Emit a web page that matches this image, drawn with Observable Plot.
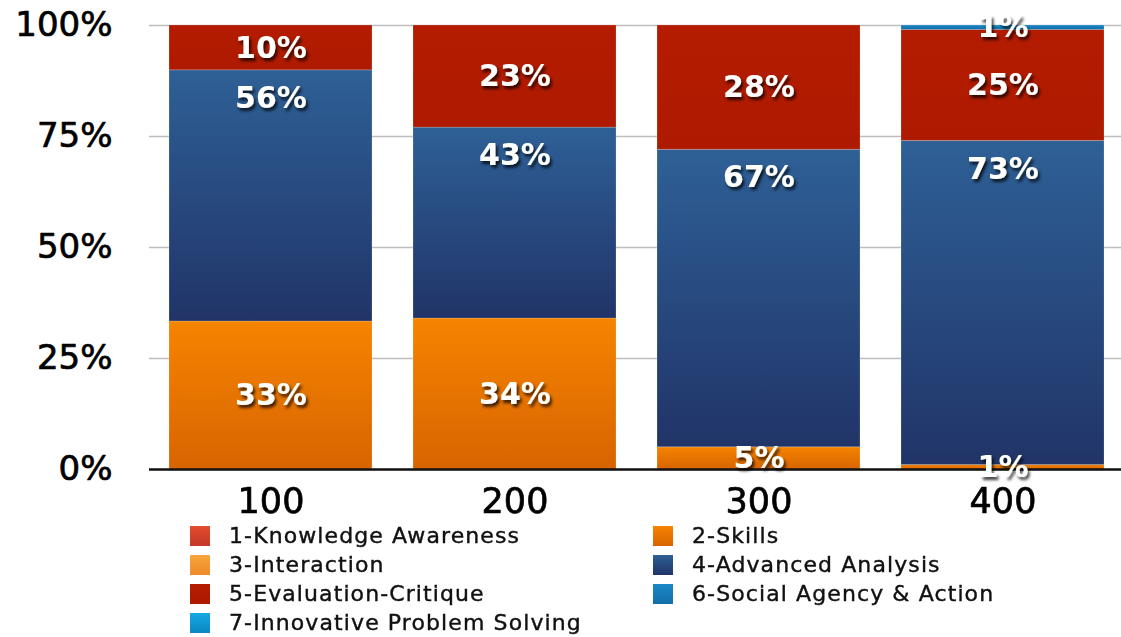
<!DOCTYPE html>
<html>
<head>
<meta charset="utf-8">
<script src="https://cdn.jsdelivr.net/npm/d3@7"></script>
<script src="https://cdn.jsdelivr.net/npm/@observablehq/plot@0.6"></script>
<style>
  html, body { margin: 0; padding: 0; background: #fff; }
  #wrap { position: relative; width: 1121px; height: 637px; font-family: "DejaVu Sans", sans-serif; }
  #chart svg { display: block; }
  #legend { position: absolute; left: 190px; top: 521px; display: grid; grid-template-columns: 463px 420px; grid-auto-rows: 29px; }
  .item { display: flex; align-items: center; font-size: 22px; letter-spacing: 1.1px; color: #111; white-space: nowrap; -webkit-text-stroke: 0.4px #111; }
  .sw { width: 20px; height: 20px; margin-right: 19px; flex: none; }
</style>
</head>
<body>
<div id="wrap">
  <div id="chart"></div>
  <div id="legend"></div>
</div>
<script>
// ---- data ----
const levels = ["100", "200", "300", "400"];
const categories = [
  "1-Knowledge Awareness",
  "2-Skills",
  "3-Interaction",
  "4-Advanced Analysis",
  "5-Evaluation-Critique",
  "6-Social Agency & Action",
  "7-Innovative Problem Solving"
];
const knowledgeAwareness = [0, 0, 0, 0];
const skills = [33, 34, 5, 1];
const interaction = [0, 0, 0, 0];
const advancedAnalysis = [56, 43, 67, 73];
const evaluationCritique = [10, 23, 28, 25];
const socialAgency = [0, 0, 0, 1];
const innovativeProblemSolving = [0, 0, 0, 0];
const yTicks = [0, 0.25, 0.5, 0.75, 1];

// ---- styles ----
const gradients = [
  ["#e44c2c", "#c4372a"],
  ["#f58400", "#d86400"],
  ["#f6a63c", "#ee8a28"],
  ["#2e6096", "#213468"],
  ["#b41c00", "#ae1a00"],
  ["#1c86c6", "#126fa8"],
  ["#16aae2", "#0a86c0"]
];
const gradIds = categories.map((c, i) => `grad${i}`);
const labelColor = "#fffffe";

const series = [knowledgeAwareness, skills, interaction, advancedAnalysis, evaluationCritique, socialAgency, innovativeProblemSolving];
const table = [];
levels.forEach((lvl, j) => {
  categories.forEach((cat, i) => {
    table.push({level: lvl, cat, value: series[i][j]});
  });
});
const blueCat = categories[3];

const stackOpts = {offset: "normalize", x: "level", y: "value"};

const chart = Plot.plot({
  width: 1121,
  height: 520,
  marginTop: 25,
  marginBottom: 51,
  marginLeft: 149,
  marginRight: 0,
  style: {fontFamily: "DejaVu Sans, sans-serif", background: "#fff", overflow: "visible", color: "#000"},
  x: {domain: levels, range: [167, 1106], paddingInner: 0.167, paddingOuter: 0},
  y: {domain: [0, 1]},
  color: {domain: categories, range: gradIds.map(id => `url(#${id})`)},
  marks: [
    Plot.gridY(yTicks, {stroke: "#bdbdbd", strokeOpacity: 1, strokeWidth: 1.5}),
    Plot.barY(table, Plot.stackY({
      ...stackOpts,
      fill: "cat",
      filter: d => d.value > 0,
      stroke: "#ffffff",
      strokeOpacity: 0.18,
      strokeWidth: 1
    })),
    Plot.ruleY([0], {stroke: "#111", strokeWidth: 2.5}),
    Plot.text(table, Plot.stackY({
      ...stackOpts,
      filter: d => d.value > 0,
      text: d => d.cat !== blueCat ? `${d.value}%` : null,
      fill: labelColor,
      fontSize: 30,
      fontWeight: "bold"
    })),
    Plot.text(table, Plot.stackY2({
      ...stackOpts,
      filter: d => d.value > 0,
      text: d => d.cat === blueCat ? `${d.value}%` : null,
      dy: 28,
      fill: labelColor,
      fontSize: 30,
      fontWeight: "bold"
    })),
    Plot.axisY(yTicks, {tickFormat: d3.format(".0%"), tickSize: 0, tickPadding: 37, fontSize: 34, label: null, fill: "#000", textStroke: "#000", textStrokeWidth: 0.7}),
    Plot.axisX({tickSize: 0, tickPadding: 19, fontSize: 35, label: null, fill: "#000", textStroke: "#000", textStrokeWidth: 0.7})
  ]
});

// gradient + shadow defs
const svg = d3.select(chart);
const defs = svg.insert("defs", ":first-child");
gradients.forEach((g, i) => {
  const lg = defs.append("linearGradient").attr("id", gradIds[i]).attr("x1", 0).attr("y1", 0).attr("x2", 0).attr("y2", 1);
  lg.append("stop").attr("offset", "0%").attr("stop-color", g[0]);
  lg.append("stop").attr("offset", "100%").attr("stop-color", g[1]);
});
const f = defs.append("filter").attr("id", "txtShadow").attr("x", "-30%").attr("y", "-30%").attr("width", "160%").attr("height", "170%");
f.append("feDropShadow").attr("dx", 2).attr("dy", 3).attr("stdDeviation", 1.6).attr("flood-color", "#000").attr("flood-opacity", 0.75);
svg.selectAll("g").filter(function () { return this.getAttribute("fill") === labelColor; })
  .attr("filter", "url(#txtShadow)");

document.getElementById("chart").appendChild(chart);

// legend
const legend = d3.select("#legend");
categories.forEach((cat, i) => {
  const item = legend.append("div").attr("class", "item");
  item.append("span").attr("class", "sw").style("background", `linear-gradient(${gradients[i][0]}, ${gradients[i][1]})`);
  item.append("span").text(cat);
});
</script>
</body>
</html>
